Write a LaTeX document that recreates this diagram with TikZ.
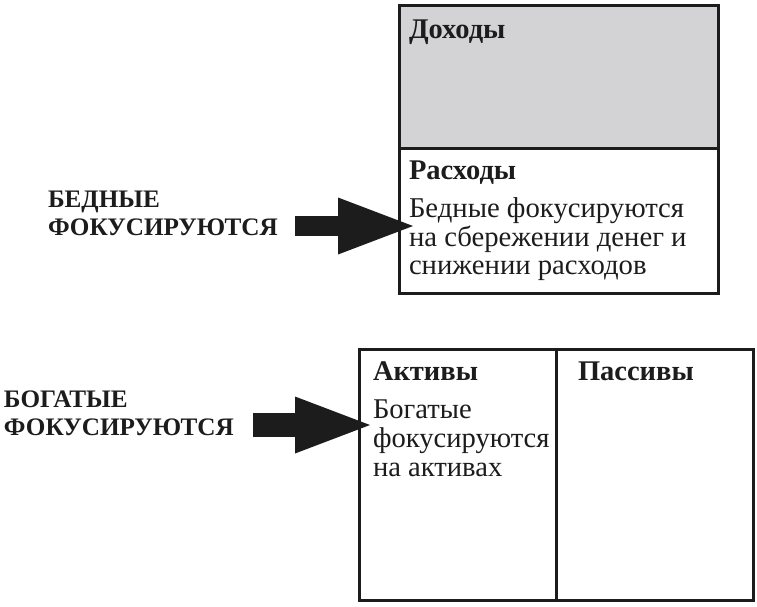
\documentclass[tikz,border=0pt]{standalone}
\usepackage{fontspec}
\setmainfont{Liberation Serif}
\usetikzlibrary{arrows.meta}
\definecolor{boxgray}{RGB}{211,211,213}
\definecolor{ink}{RGB}{28,28,28}
\begin{document}
\begin{tikzpicture}[x=1pt,y=-1pt,
  frame/.style={draw=ink, line width=3pt, inner sep=0pt, outer sep=0pt, anchor=north west},
  txt/.style={anchor=base west, inner sep=0pt, outer sep=0pt, text=ink},
  headfont/.style={font=\bfseries\fontsize{28.5}{30}\selectfont},
  bodytop/.style={font=\fontsize{28.7}{28.2}\selectfont},
  bodybot/.style={font=\fontsize{28.6}{29}\selectfont},
  sidefont/.style={font=\bfseries\fontsize{25.2}{28.5}\selectfont},
  bigarrow/.style={draw=ink, fill=ink, line width=#1, line cap=butt,
    -{Triangle[length=75pt,width=57pt,line width=0pt]}}]
\useasboundingbox (0,0) rectangle (757,606);
% top box
\node[frame, fill=boxgray, minimum width=319pt, minimum height=143pt] (inc) at (399,5) {};
\node[frame, minimum width=319pt, minimum height=145pt] (exp) at (399,148) {};
% bottom boxes
\node[frame, minimum width=197pt, minimum height=251pt] (assets) at (359,349) {};
\node[frame, minimum width=197pt, minimum height=251pt] (liab) at (556,349) {};
% texts
\node[txt, headfont] (inclbl) at (409,38) {Доходы};
\node[txt, headfont] (explbl) at (409,179) {Расходы};
\node[txt, bodytop] (exptxt) at (409,217) {\begin{tabular}[t]{@{}l@{}}Бедные фокусируются\\на сбережении денег и\\снижении расходов\end{tabular}};
\node[txt, headfont] (asslbl) at (373,380) {Активы};
\node[txt, headfont] (liablbl) at (578,380) {Пассивы};
\node[txt, bodybot] (asstxt) at (373,418) {\begin{tabular}[t]{@{}l@{}}Богатые\\фокусируются\\на активах\end{tabular}};
% side labels
\node[txt, sidefont] (poor) at (48,207) {\begin{tabular}[t]{@{}l@{}}БЕДНЫЕ\\ФОКУСИРУЮТСЯ\end{tabular}};
\node[txt, sidefont] (rich) at (4,407) {\begin{tabular}[t]{@{}l@{}}БОГАТЫЕ\\ФОКУСИРУЮТСЯ\end{tabular}};
% arrows
\coordinate (poorstart) at (295,226);
\coordinate (poortip) at (413,226);
\coordinate (richstart) at (253,425);
\coordinate (richtip) at (370,425);
\draw[bigarrow=20pt] (poorstart) -- (poortip);
\draw[bigarrow=24pt] (richstart) -- (richtip);
\end{tikzpicture}
\end{document}
